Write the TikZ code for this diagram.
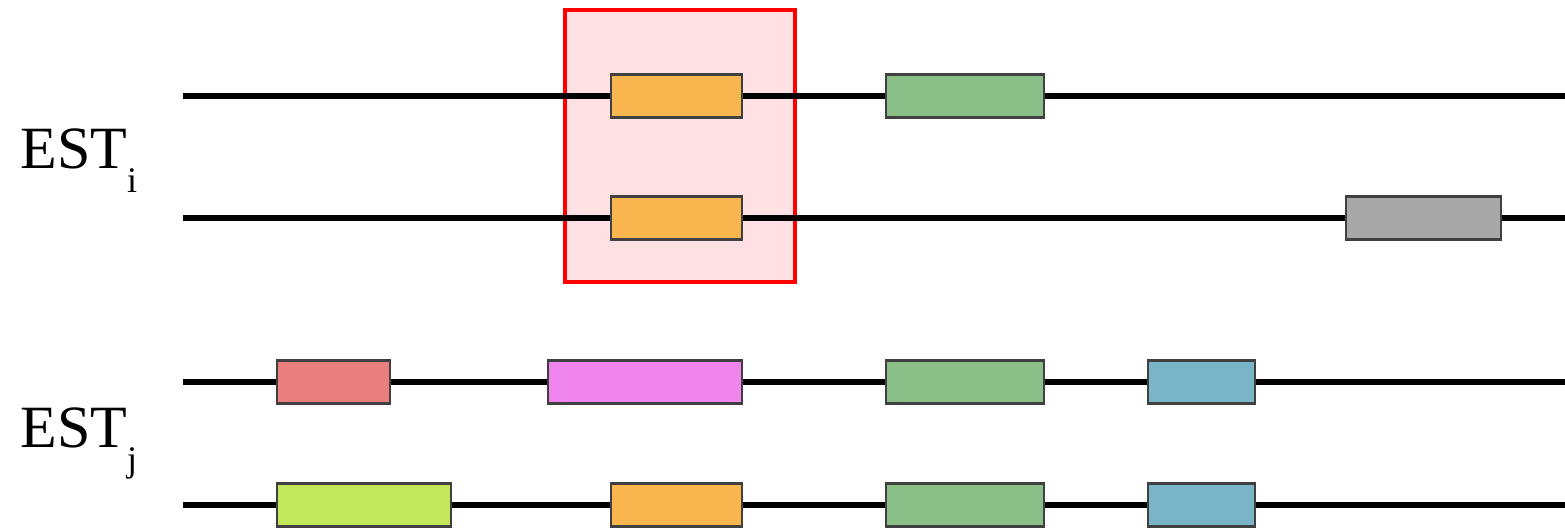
\documentclass[tikz,border=0pt]{standalone}
\usepackage{fontspec}
\setmainfont{Liberation Serif}
\definecolor{exorange}{HTML}{F9B64E}
\definecolor{exgreen}{HTML}{8ABF88}
\definecolor{exgray}{HTML}{A8A8A8}
\definecolor{exred}{HTML}{EA7E7E}
\definecolor{exmagenta}{HTML}{EE84EC}
\definecolor{exblue}{HTML}{7AB4C8}
\definecolor{exlime}{HTML}{C2E75A}
\definecolor{selfill}{HTML}{FFE0E3}
\begin{document}
\begin{tikzpicture}[x=0.5pt,y=-0.5pt,
  strand/.style={line width=2.8pt, black},
  exon/.style={draw=black!75, line width=1.2pt, minimum height=21.5pt, inner sep=0pt},
  selbox/.style={draw=red, fill=selfill, line width=2.4pt, inner sep=0pt},
  estlabel/.style={anchor=base west, inner sep=0pt, font=\fontsize{30}{34}\selectfont}
]
\useasboundingbox (0,0) rectangle (1565,528);

% shared-exon highlight
\node[selbox, minimum width=115pt, minimum height=136pt] (sel) at (680,146) {};

% transcript backbones
\foreach \r/\y in {a/96, b/218, c/382, d/505}{
  \coordinate (\r s) at (183,\y);
  \coordinate (\r e) at (1565,\y);
  \draw[strand] (\r s) -- (\r e);
}

% EST_i, first transcript
\node[exon, fill=exorange, minimum width=65.5pt] (a1) at (676.5,96) {};
\node[exon, fill=exgreen,  minimum width=79pt]   (a2) at (965,96) {};
% EST_i, second transcript
\node[exon, fill=exorange, minimum width=65.5pt] (b1) at (676.5,218) {};
\node[exon, fill=exgray,   minimum width=77.5pt] (b2) at (1423.5,218) {};
% EST_j, first transcript
\node[exon, fill=exred,     minimum width=56.5pt] (c1) at (333.5,382) {};
\node[exon, fill=exmagenta, minimum width=97pt]   (c2) at (645,382) {};
\node[exon, fill=exgreen,   minimum width=79pt]   (c3) at (965,382) {};
\node[exon, fill=exblue,    minimum width=53.5pt] (c4) at (1201.5,382) {};
% EST_j, second transcript
\node[exon, fill=exlime,   minimum width=87pt]   (d1) at (364,505) {};
\node[exon, fill=exorange, minimum width=65.5pt] (d2) at (676.5,505) {};
\node[exon, fill=exgreen,  minimum width=79pt]   (d3) at (965,505) {};
\node[exon, fill=exblue,   minimum width=53.5pt] (d4) at (1201.5,505) {};

% group labels
\node[estlabel] (esti) at (20,169) {EST\raisebox{-0.4em}{\fontsize{18}{20}\selectfont i}};
\node[estlabel] (estj) at (20,448) {EST\raisebox{-0.4em}{\fontsize{18}{20}\selectfont j}};
\end{tikzpicture}
\end{document}
